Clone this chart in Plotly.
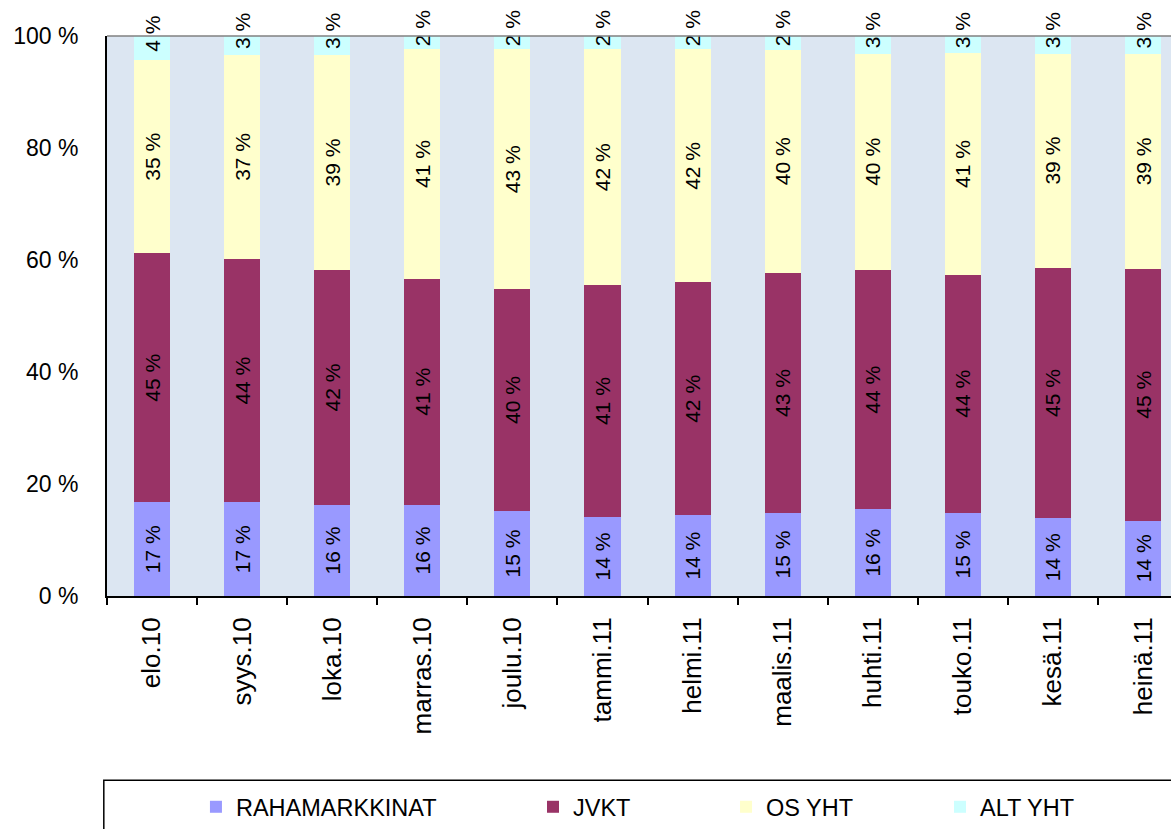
import plotly.graph_objects as go

# Monthly categories
months = ["elo.10", "syys.10", "loka.10", "marras.10", "joulu.10", "tammi.11",
          "helmi.11", "maalis.11", "huhti.11", "touko.11", "kesä.11", "heinä.11"]

# Shares per fund category (%), stacked to 100 % per month
rahamarkkinat = [16.8, 16.8, 16.3, 16.3, 15.2, 14.1, 14.4, 14.8, 15.8, 15.2, 14.0, 13.6]
jvkt          = [44.8, 43.7, 42.2, 40.6, 39.6, 41.4, 41.6, 42.8, 43.6, 43.6, 45.3, 45.3]
os_yht        = [34.6, 36.6, 38.6, 41.1, 42.8, 42.1, 41.6, 39.8, 39.5, 40.5, 38.6, 38.8]
alt_yht       = [4.4, 3.4, 3.4, 2.4, 2.4, 2.4, 2.4, 2.45, 3.2, 3.2, 3.2, 3.2]

y_ticks = [0, 20, 40, 60, 80, 100]
y_tick_text = [f"{v} %" for v in y_ticks]

NBSP = "\u00a0"
series = [
    ("RAHAMARKKINAT", rahamarkkinat, "#9999FF", "legend", "%{text:.0f} %"),
    ("JVKT", jvkt, "#993366", "legend2", "%{text:.0f} %"),
    ("OS YHT", os_yht, "#FFFFCC", "legend3", "%{text:.0f} %"),
    # thin top segment: label sits high, running past the top of the bar
    ("ALT YHT", alt_yht, "#CCFFFF", "legend4", NBSP * 5 + "%{text:.0f} %"),
]

FONT = "Liberation Sans, Arial, sans-serif"

fig = go.Figure()
for name, vals, color, leg, tmpl in series:
    fig.add_trace(go.Bar(
        name=name,
        x=months,
        y=vals,
        marker=dict(color=color, line=dict(width=0)),
        width=0.4,
        text=vals,
        texttemplate=tmpl,
        textposition="inside",
        insidetextanchor="middle",
        textangle=-90,
        constraintext="none",
        cliponaxis=False,
        textfont=dict(family=FONT, size=21, color="black"),
        legend=leg,
        hoverinfo="skip",
    ))

legend_style = dict(
    orientation="h",
    yanchor="middle",
    y=-0.378,
    xanchor="left",
    bgcolor="rgba(0,0,0,0)",
    borderwidth=0,
    font=dict(family=FONT, size=23.5, color="black"),
)

fig.update_layout(
    width=1171,
    height=829,
    margin=dict(l=107, r=0, t=36, b=233),
    barmode="stack",
    barnorm="percent",
    paper_bgcolor="white",
    plot_bgcolor="#DCE6F2",
    showlegend=True,
    legend=dict(x=0.0836, **legend_style),
    legend2=dict(x=0.4004, **legend_style),
    legend3=dict(x=0.5818, **legend_style),
    legend4=dict(x=0.7829, **legend_style),
    xaxis=dict(
        range=[-0.5, 11.31],
        showgrid=False,
        zeroline=False,
        showline=True,
        linecolor="black",
        linewidth=2,
        ticks="outside",
        tickson="boundaries",
        ticklen=7,
        tickwidth=1.5,
        tickcolor="black",
        tickangle=-90,
        ticklabelstandoff=9,
        tickfont=dict(family=FONT, size=26, color="black"),
    ),
    yaxis=dict(
        range=[0, 100],
        tickvals=y_ticks,
        ticktext=y_tick_text,
        showgrid=False,
        zeroline=False,
        showline=True,
        linecolor="black",
        linewidth=2,
        ticks="",
        ticklabelstandoff=22,
        tickfont=dict(family=FONT, size=23, color="black"),
    ),
    shapes=[
        # top border of the plot area
        dict(type="line", xref="paper", yref="paper", x0=0, x1=1, y0=1, y1=1,
             line=dict(color="#808080", width=1.5), layer="above"),
        # legend frame
        dict(type="rect", xref="paper", yref="paper", x0=-0.003, x1=1.05,
             y0=-0.329, y1=-0.45, line=dict(color="black", width=1.5),
             fillcolor="rgba(0,0,0,0)"),
    ],
)

fig.write_html("out.html")
